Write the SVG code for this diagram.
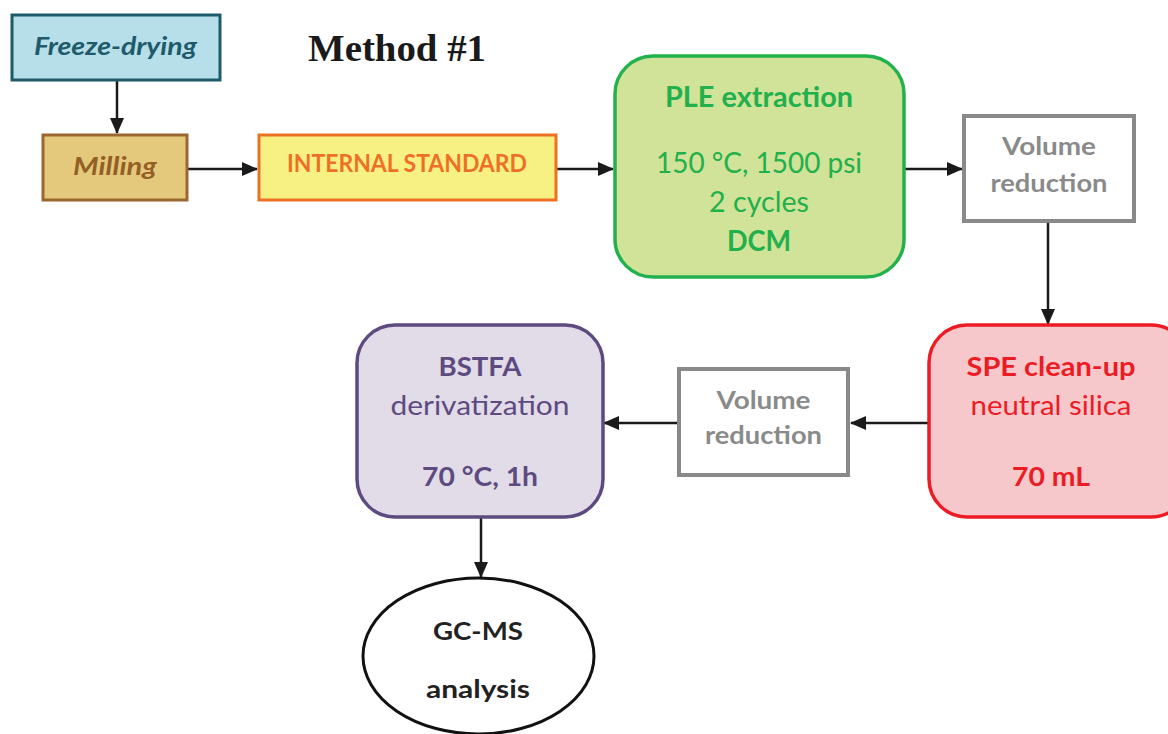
<svg xmlns="http://www.w3.org/2000/svg" width="1168" height="734" viewBox="0 0 1168 734">
  <style>
    text { font-family: Lato, "Open Sans", "DejaVu Sans", sans-serif; text-anchor: middle; }
    .b { font-weight: bold; }
    .box { stroke-width: 3; }
    .round { stroke-width: 3.5; }
    .conn { stroke: #1a1a1a; stroke-width: 2.5; fill: none; marker-end: url(#arrow); }
  </style>
  <defs>
    <marker id="arrow" markerUnits="userSpaceOnUse" markerWidth="16" markerHeight="14" refX="15" refY="7" orient="auto">
      <path d="M0,0 L16,7 L0,14 Z" fill="#1a1a1a"/>
    </marker>
  </defs>

  <rect width="1168" height="734" fill="#ffffff"/>

  <!-- title -->
  <text x="397" y="61" font-family="'Liberation Serif', serif" font-size="38" font-weight="bold" fill="#1a1a1a" textLength="178" lengthAdjust="spacingAndGlyphs" style="font-family:'Liberation Serif', serif">Method #1</text>

  <!-- connectors -->
  <g id="connectors">
    <line class="conn" x1="117" y1="81" x2="117" y2="133"/>
    <line class="conn" x1="188" y1="169" x2="257" y2="169"/>
    <line class="conn" x1="557" y1="169" x2="613" y2="169"/>
    <line class="conn" x1="905" y1="169" x2="962" y2="169"/>
    <line class="conn" x1="1048" y1="222" x2="1048" y2="324"/>
    <line class="conn" x1="929" y1="423" x2="851" y2="423"/>
    <line class="conn" x1="678" y1="423" x2="604" y2="423"/>
    <line class="conn" x1="481" y1="518" x2="481" y2="577"/>
  </g>

  <g id="freeze-drying">
    <rect class="box" x="12" y="15" width="208" height="65" fill="#b7dfea" stroke="#1d5b6b"/>
    <text x="115.5" y="55" font-size="25" class="b" font-style="italic" fill="#1e5a6a" textLength="163" lengthAdjust="spacingAndGlyphs">Freeze-drying</text>
  </g>

  <g id="milling">
    <rect class="box" x="43" y="135" width="144" height="65" fill="#e4c97d" stroke="#9b6730"/>
    <text x="115" y="175" font-size="25" class="b" font-style="italic" fill="#935f24" textLength="84" lengthAdjust="spacingAndGlyphs">Milling</text>
  </g>

  <g id="internal-standard">
    <rect class="box" x="259" y="135" width="297" height="65" fill="#f7f083" stroke="#ed7125"/>
    <text x="407" y="172" font-size="24" class="b" fill="#ee7027" textLength="240" lengthAdjust="spacingAndGlyphs">INTERNAL STANDARD</text>
  </g>

  <g id="ple-extraction">
    <rect class="round" x="615" y="56" width="289" height="221" rx="38" fill="#d1e299" stroke="#22b14c"/>
    <text x="759" y="107" font-size="28" class="b" fill="#21b04b" textLength="188" lengthAdjust="spacingAndGlyphs">PLE extraction</text>
    <text x="759" y="173" font-size="28" fill="#21b04b" textLength="206" lengthAdjust="spacingAndGlyphs">150 °C, 1500 psi</text>
    <text x="759" y="212" font-size="28" fill="#21b04b" textLength="100" lengthAdjust="spacingAndGlyphs">2 cycles</text>
    <text x="759" y="251" font-size="28" class="b" fill="#21b04b" textLength="64" lengthAdjust="spacingAndGlyphs">DCM</text>
  </g>

  <g id="volume-reduction-1">
    <rect x="964" y="116" width="170" height="105" fill="#ffffff" stroke="#898989" stroke-width="4"/>
    <text x="1049" y="155" font-size="24" class="b" fill="#8a8a8a" textLength="94" lengthAdjust="spacingAndGlyphs">Volume</text>
    <text x="1049" y="192" font-size="24" class="b" fill="#8a8a8a" textLength="117" lengthAdjust="spacingAndGlyphs">reduction</text>
  </g>

  <g id="spe-clean-up">
    <rect class="round" x="929" y="325" width="260" height="192" rx="38" fill="#f7c8cb" stroke="#ed1c24"/>
    <text x="1051" y="376" font-size="26" class="b" fill="#ec1c24" textLength="169" lengthAdjust="spacingAndGlyphs">SPE clean-up</text>
    <text x="1051" y="415" font-size="26" fill="#ec1c24" textLength="161" lengthAdjust="spacingAndGlyphs">neutral silica</text>
    <text x="1051" y="486" font-size="26" class="b" fill="#ec1c24" textLength="78" lengthAdjust="spacingAndGlyphs">70 mL</text>
  </g>

  <g id="volume-reduction-2">
    <rect x="679" y="369" width="169" height="106" fill="#ffffff" stroke="#898989" stroke-width="4"/>
    <text x="763.5" y="409" font-size="24" class="b" fill="#8a8a8a" textLength="94" lengthAdjust="spacingAndGlyphs">Volume</text>
    <text x="763.5" y="444" font-size="24" class="b" fill="#8a8a8a" textLength="117" lengthAdjust="spacingAndGlyphs">reduction</text>
  </g>

  <g id="bstfa-derivatization">
    <rect class="round" x="357" y="325" width="246" height="192" rx="38" fill="#e2dbe8" stroke="#5d4b80"/>
    <text x="480" y="376" font-size="26" class="b" fill="#5d4b80" textLength="83" lengthAdjust="spacingAndGlyphs">BSTFA</text>
    <text x="480" y="415" font-size="26" fill="#5d4b80" textLength="179" lengthAdjust="spacingAndGlyphs">derivatization</text>
    <text x="480" y="486" font-size="26" class="b" fill="#5d4b80" textLength="116" lengthAdjust="spacingAndGlyphs">70 °C, 1h</text>
  </g>

  <g id="gc-ms-analysis">
    <ellipse cx="478.5" cy="656" rx="115.5" ry="78" fill="#ffffff" stroke="#111111" stroke-width="3"/>
    <text x="478" y="640" font-size="25" class="b" fill="#222222" textLength="90" lengthAdjust="spacingAndGlyphs">GC-MS</text>
    <text x="478" y="698" font-size="25" class="b" fill="#222222" textLength="104" lengthAdjust="spacingAndGlyphs">analysis</text>
  </g>
</svg>
